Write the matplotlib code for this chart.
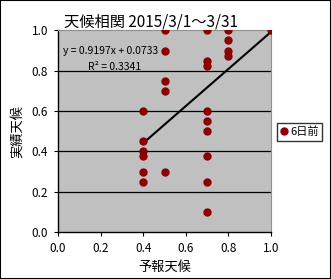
import matplotlib.pyplot as plt
import matplotlib as mpl
from matplotlib.patches import Rectangle

mpl.rcParams["font.family"] = ["Noto Sans CJK JP", "DejaVu Sans"]
mpl.rcParams["axes.unicode_minus"] = False

# 予報天候 / 実績天候 (6日前)
forecast = [0.4, 0.4, 0.4, 0.4, 0.4, 0.4,
            0.5, 0.5, 0.5, 0.5, 0.5,
            0.7, 0.7, 0.7, 0.7, 0.7, 0.7, 0.7, 0.7, 0.7,
            0.8, 0.8, 0.8, 0.8,
            1.0]
actual = [0.6, 0.45, 0.4, 0.375, 0.3, 0.25,
          1.0, 0.9, 0.75, 0.7, 0.3,
          1.0, 0.85, 0.825, 0.6, 0.55, 0.5, 0.375, 0.25, 0.1,
          1.0, 0.95, 0.9, 0.875,
          1.0]
slope = 0.9197
intercept = 0.0733
r2 = 0.3341
ticks = [0.0, 0.2, 0.4, 0.6, 0.8, 1.0]

fig = plt.figure(figsize=(3.31, 2.79), dpi=100)
fig.patches.append(Rectangle((0, 0), 1, 1, transform=fig.transFigure, fill=False,
                             edgecolor="black", linewidth=1.5))
ax = fig.add_axes([0.175, 0.168, 0.644, 0.723])
ax.set_facecolor("#C0C0C0")

for t in ticks[1:-1]:
    ax.axhline(t, color="black", linewidth=0.9, zorder=1)

ax.plot(forecast, actual, "o", color="#8B0000", markersize=5, zorder=3, label="6日前")

xs = [min(forecast), max(forecast)]
ax.plot(xs, [slope * x + intercept for x in xs], color="black", linewidth=1.5, zorder=2)

ax.text(0.025, 0.9, "y = %.4fx + %.4f" % (slope, intercept), transform=ax.transAxes,
        fontsize=7.5, va="center", ha="left")
ax.text(0.14, 0.82, "R² = %.4f" % r2, transform=ax.transAxes,
        fontsize=7.5, va="center", ha="left")

ax.set_xlim(0, 1)
ax.set_ylim(0, 1)
ax.set_xticks(ticks)
ax.set_yticks(ticks)
ax.set_xticklabels(["%.1f" % t for t in ticks], fontsize=8.5)
ax.set_yticklabels(["%.1f" % t for t in ticks], fontsize=8.5)
ax.tick_params(direction="out", length=3, width=0.8, pad=4)
ax.spines["top"].set_color("#909090")
ax.spines["right"].set_color("#909090")
ax.spines["left"].set_linewidth(1)
ax.spines["bottom"].set_linewidth(1)

ax.set_title("天候相関 2015/3/1～3/31", fontsize=11, loc="left", x=0.03, pad=3)
ax.set_xlabel("予報天候", fontsize=9.5)
ax.set_ylabel("実績天候", fontsize=9.5)
ax.xaxis.set_label_coords(0.5, -0.145)
ax.yaxis.set_label_coords(-0.16, 0.5)

leg = fig.legend(loc="center", bbox_to_anchor=(0.905, 0.527), fontsize=8,
                 frameon=True, fancybox=False, edgecolor="black", handlelength=0.6,
                 handletextpad=0.3, borderpad=0.3, markerscale=1.0)
leg.get_frame().set_linewidth(1)

fig.savefig("out.png", dpi=100)
